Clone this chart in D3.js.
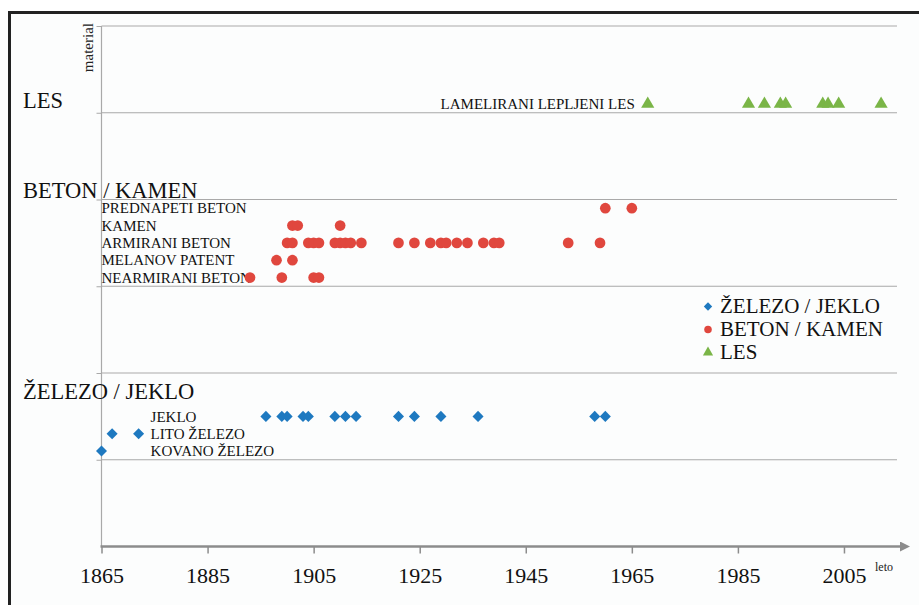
<!DOCTYPE html>
<html>
<head>
<meta charset="utf-8">
<!-- Load d3 -->
<script src="https://d3js.org/d3.v7.min.js"></script>
<title>Material / leto</title>
<style type="text/css">
  body { margin: 0; background: #ffffff; }
  svg { display: block; }
  svg text { font-family: "Liberation Serif", "Times New Roman", serif; }
</style>
</head>
<body>
<div id="myvisualization"></div>
<script>

// x axis ticks (leto)
var yearTicks = [1865, 1885, 1905, 1925, 1945, 1965, 1985, 2005];

// main groups on the y axis
var groupNames = ["LES", "BETON / KAMEN", "ŽELEZO / JEKLO"];
var groupLevels = [5.05, 4.02, 1.70];

// sub rows: name, level on the y axis, series it belongs to
var rowNames = ["LAMELIRANI LEPLJENI LES", "PREDNAPETI BETON", "KAMEN", "ARMIRANI BETON",
                "MELANOV PATENT", "NEARMIRANI BETON", "JEKLO", "LITO ŽELEZO", "KOVANO ŽELEZO"];
var rowLevels = [5.1, 3.9, 3.7, 3.5, 3.3, 3.1, 1.5, 1.3, 1.1];
var rowSeries = [2, 1, 1, 1, 1, 1, 0, 0, 0];

// years of each row
var lamLesYears = [1968, 1987, 1990, 1993, 1994, 2001, 2002, 2004, 2012];
var prednapetiYears = [1960, 1965];
var kamenYears = [1901, 1902, 1910];
var armiraniYears = [1900, 1901, 1904, 1905, 1906, 1909, 1910, 1911, 1912, 1914, 1921,
                     1924, 1927, 1929, 1930, 1932, 1934, 1937, 1939, 1940, 1953, 1959];
var melanovYears = [1898, 1901];
var nearmiraniYears = [1893, 1899, 1905, 1906];
var jekloYears = [1896, 1899, 1900, 1903, 1904, 1909, 1911, 1913, 1921, 1924, 1929, 1936, 1958, 1960];
var litoYears = [1867, 1872];
var kovanoYears = [1865];

var rowYears = [lamLesYears, prednapetiYears, kamenYears, armiraniYears, melanovYears,
                nearmiraniYears, jekloYears, litoYears, kovanoYears];

// legend
var seriesNames = ["ŽELEZO / JEKLO", "BETON / KAMEN", "LES"];
var seriesColors = ["#1e79c0", "#e0473e", "#7ab547"];
var seriesSymbols = [d3.symbolDiamond2, d3.symbolCircle, d3.symbolTriangle];

var width = 919, height = 605;
var serif = "Liberation Serif, Times New Roman, serif";

var svg = d3.select("#myvisualization").append("svg")
  .attr("width", width)
  .attr("height", height)
  .attr("font-family", serif);

// background + frame
svg.append("rect")
  .attr("x", 0).attr("y", 0)
  .attr("width", width).attr("height", height)
  .attr("fill", "#ffffff");
svg.append("rect")
  .attr("x", 9.5).attr("y", 12.5)
  .attr("width", width).attr("height", height)
  .attr("fill", "#fcfdfd")
  .attr("stroke", "#222")
  .attr("stroke-width", 3);

// scales
var x = d3.scaleLinear().domain([1865, 2015]).range([101.5, 897]);
var y = d3.scaleLinear().domain([0, 6]).range([546.5, 26]);

// horizontal gridlines with small ticks on the left
svg.append("g")
  .attr("transform", "translate(" + x(1865) + ",0)")
  .call(d3.axisLeft(y).tickValues([1, 2, 3, 4, 5, 6]).tickSize(5).tickFormat(""))
  .call(function(g) {
    g.select(".domain").remove();
    g.selectAll(".tick line").attr("stroke", "#a9a9a9");
  });
svg.append("g").selectAll("line")
  .data([1, 2, 3, 4, 5, 6])
  .enter().append("line")
  .attr("x1", x(1865)).attr("x2", x(2015))
  .attr("y1", function(d) { return y(d); })
  .attr("y2", function(d) { return y(d); })
  .attr("stroke", "#a9a9a9")
  .attr("stroke-width", 1.2);

// vertical axis line
svg.append("line")
  .attr("x1", x(1865)).attr("x2", x(1865))
  .attr("y1", y(6)).attr("y2", y(0))
  .attr("stroke", "#a9a9a9")
  .attr("stroke-width", 1.2);

// x axis with arrow
svg.append("defs").append("marker")
  .attr("id", "arrow")
  .attr("viewBox", "0 0 10 10")
  .attr("refX", 1).attr("refY", 5)
  .attr("markerWidth", 4).attr("markerHeight", 4)
  .attr("orient", "auto")
  .append("path")
  .attr("d", "M0,0 L10,5 L0,10 z")
  .attr("fill", "#8c8c8c");

var xAxis = svg.append("g")
  .attr("transform", "translate(0," + y(0) + ")")
  .call(d3.axisBottom(x).tickValues(yearTicks).tickSize(7).tickPadding(14).tickFormat(d3.format("d")));
xAxis.attr("font-family", serif).attr("font-size", 22);
xAxis.select(".domain").remove();
xAxis.selectAll(".tick line").attr("stroke", "#8c8c8c").attr("stroke-width", 1.5);
xAxis.selectAll(".tick text").attr("fill", "#111");
svg.append("line")
  .attr("x1", x(1865) - 1).attr("x2", x(2015) + 4)
  .attr("y1", y(0)).attr("y2", y(0))
  .attr("stroke", "#8c8c8c")
  .attr("stroke-width", 2.5)
  .attr("marker-end", "url(#arrow)");

// axis titles
svg.append("text")
  .attr("x", 875).attr("y", 571)
  .style("font-size", "12px")
  .attr("fill", "#222")
  .text("leto");
svg.append("text")
  .attr("transform", "translate(93," + 23 + ") rotate(-90)")
  .style("text-anchor", "end")
  .style("font-size", "15px")
  .attr("fill", "#222")
  .text("material");

// group labels
svg.append("g").selectAll("text")
  .data(groupNames)
  .enter().append("text")
  .attr("x", 23)
  .attr("y", function(d, i) { return y(groupLevels[i]); })
  .style("font-size", "22.5px")
  .attr("fill", "#111")
  .text(function(d) { return d; });

// row labels
function rowLabelX(i) {
  if (i == 0) return x(lamLesYears[0]) - 13;
  if (i >= 6) return x(litoYears[1]) + 12;
  return x(1865);
}
svg.append("g").selectAll("text")
  .data(rowNames)
  .enter().append("text")
  .attr("x", function(d, i) { return rowLabelX(i); })
  .attr("y", function(d, i) { return y(rowLevels[i]); })
  .attr("dy", "0.35em")
  .style("text-anchor", function(d, i) { return i == 0 ? "end" : "start"; })
  .style("font-size", "15px")
  .attr("fill", "#111")
  .text(function(d) { return d; });

// points
var points = [];
rowYears.forEach(function(yrs, i) {
  yrs.forEach(function(yr) {
    points.push({year: yr, level: rowLevels[i], series: rowSeries[i]});
  });
});

var symbolSizes = [78, 90, 75];
svg.append("g").selectAll("path")
  .data(points)
  .enter().append("path")
  .attr("transform", function(d) { return "translate(" + x(d.year) + "," + y(d.level) + ")"; })
  .attr("d", function(d) { return d3.symbol().type(seriesSymbols[d.series]).size(symbolSizes[d.series])(); })
  .attr("fill", function(d) { return seriesColors[d.series]; });

// legend
var legend = svg.append("g").selectAll("g")
  .data(seriesNames)
  .enter().append("g")
  .attr("transform", function(d, i) { return "translate(708," + (306.5 + i * 23) + ")"; });
legend.append("path")
  .attr("d", function(d, i) { return d3.symbol().type(seriesSymbols[i]).size(45)(); })
  .attr("fill", function(d, i) { return seriesColors[i]; });
legend.append("text")
  .attr("x", 12)
  .attr("dy", "0.33em")
  .style("font-size", "21px")
  .attr("fill", "#111")
  .text(function(d) { return d; });

</script>
</body>
</html>
